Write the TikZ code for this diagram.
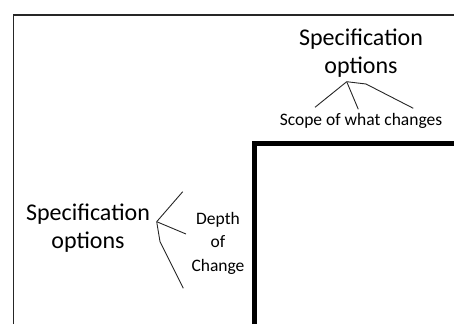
\documentclass[tikz,border=0pt]{standalone}
\usepackage{fontspec}
\setmainfont{Carlito}
\begin{document}
\begin{tikzpicture}[x=1pt,y=-1pt,
  big/.style={font=\fontsize{24}{28}\selectfont, inner sep=0pt, align=center},
  small/.style={font=\fontsize{17.5}{23.5}\selectfont, inner sep=0pt, align=center},
  branch/.style={line width=0.9pt, black!85},
  frame/.style={line width=1.5pt, black!85},
  thick frame/.style={line width=5pt, black}]
\useasboundingbox (0,0) rectangle (454,324);
% outer frame
\coordinate (f1) at (13.5,324);
\coordinate (f2) at (13.5,15);
\coordinate (f3) at (454,15);
\draw[frame] (f1) -- (f2) -- (f3);
% thick inner frame
\coordinate (t1) at (254.5,324);
\coordinate (t2) at (254.5,143.5);
\coordinate (t3) at (454,143.5);
\draw[thick frame] (t1) -- (t2) -- (t3);
% top group
\node[big] (topspec) at (361,53) {Specification\\options};
\node[small] (scope) at (361,121) {Scope of what changes};
\coordinate (ta) at (346.7,81.7);
\coordinate (tb1) at (315,107.3);
\coordinate (tb2) at (358.3,109.3);
\coordinate (tk) at (366,84);
\coordinate (tb3) at (413.3,108.3);
\draw[branch] (ta) -- (tb1);
\draw[branch] (ta) -- (tb2);
\draw[branch] (ta) -- (tk) -- (tb3);
% left group
\node[big] (leftspec) at (88,228) {Specification\\options};
\node[small] (depth) at (218,243) {Depth\\of\\Change};
\coordinate (la) at (156.7,221.7);
\coordinate (lb1) at (182.7,191.7);
\coordinate (lb2) at (186,234);
\coordinate (lk) at (160,241.7);
\coordinate (lb3) at (183.3,288.3);
\draw[branch] (la) -- (lb1);
\draw[branch] (la) -- (lb2);
\draw[branch] (la) -- (lk) -- (lb3);
\end{tikzpicture}
\end{document}
